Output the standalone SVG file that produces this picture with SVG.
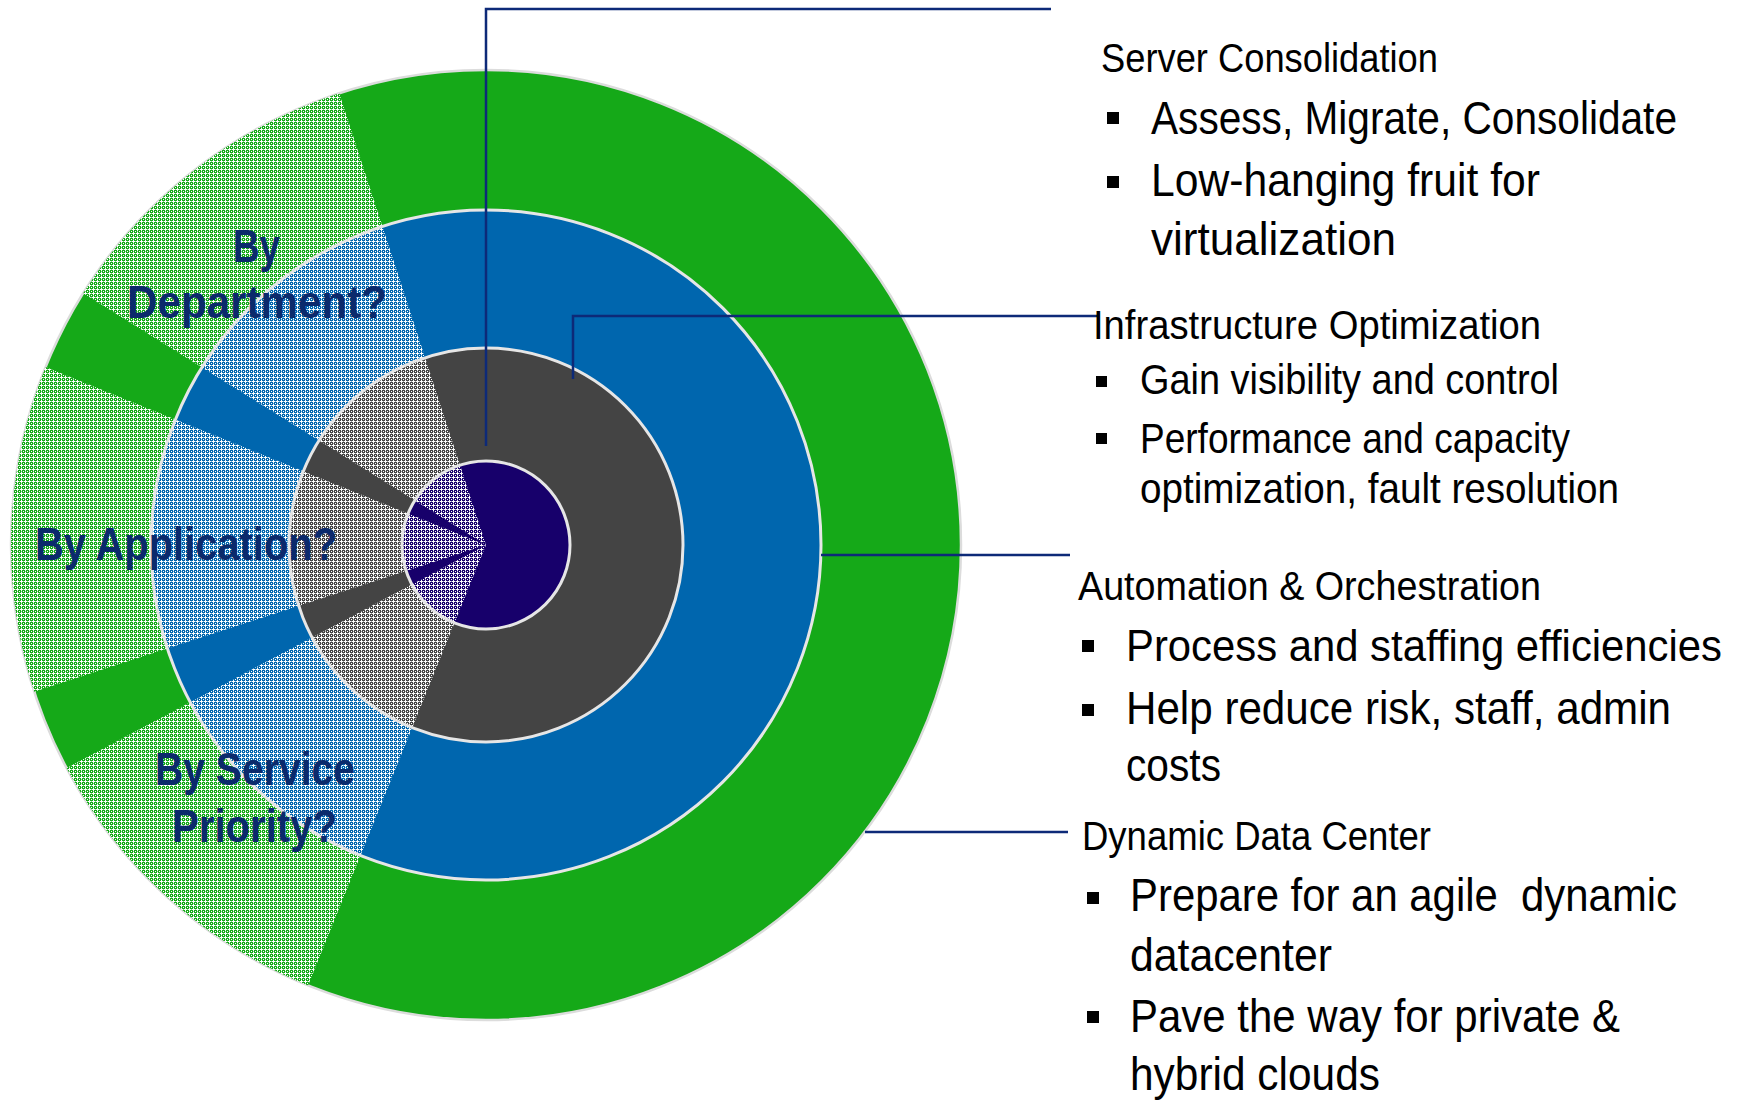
<svg xmlns="http://www.w3.org/2000/svg" width="1744" height="1100" viewBox="0 0 1744 1100">
<defs>
<style>
.hd{font-family:"Liberation Sans Narrow","Liberation Sans",Arial,sans-serif;font-size:40px;fill:#000}
.bl{font-family:"Liberation Sans Narrow","Liberation Sans",Arial,sans-serif;font-size:46px;fill:#000}
.bs{font-family:"Liberation Sans Narrow","Liberation Sans",Arial,sans-serif;font-size:42px;fill:#000}
.lab{font-family:"Liberation Sans Narrow","Liberation Sans",Arial,sans-serif;font-size:46px;font-weight:bold;fill:#0b2a6c}
.ring{fill:none;stroke:#e6e6e6;stroke-width:3}
.con{fill:none;stroke:#0d2a78;stroke-width:2.5}
</style>
<pattern id="pG" width="4" height="4" patternUnits="userSpaceOnUse">
<rect width="4" height="4" fill="#15a918"/><rect x="1" y="0" width="1" height="3" fill="#fff"/><rect x="0" y="1" width="3" height="1" fill="#fff"/><rect x="3" y="3" width="1" height="1" fill="#fff"/><rect x="3" y="1" width="1" height="1" fill="#fff" opacity="0.5"/><rect x="1" y="3" width="1" height="1" fill="#fff" opacity="0.5"/>
</pattern>
<pattern id="pB" width="4" height="4" patternUnits="userSpaceOnUse">
<rect width="4" height="4" fill="#0066ae"/><rect x="1" y="0" width="1" height="3" fill="#fff"/><rect x="0" y="1" width="3" height="1" fill="#fff"/><rect x="3" y="3" width="1" height="1" fill="#fff"/><rect x="3" y="1" width="1" height="1" fill="#fff" opacity="0.5"/><rect x="1" y="3" width="1" height="1" fill="#fff" opacity="0.5"/>
</pattern>
<pattern id="pK" width="4" height="4" patternUnits="userSpaceOnUse">
<rect width="4" height="4" fill="#444"/><rect x="1" y="0" width="1" height="3" fill="#fff"/><rect x="0" y="1" width="3" height="1" fill="#fff"/><rect x="3" y="3" width="1" height="1" fill="#fff"/><rect x="3" y="1" width="1" height="1" fill="#fff" opacity="0.5"/><rect x="1" y="3" width="1" height="1" fill="#fff" opacity="0.5"/>
</pattern>
<pattern id="pN" width="4" height="4" patternUnits="userSpaceOnUse">
<rect width="4" height="4" fill="#17006b"/><rect x="1" y="0" width="1" height="3" fill="#fff"/><rect x="0" y="1" width="3" height="1" fill="#fff"/><rect x="3" y="3" width="1" height="1" fill="#fff"/><rect x="3" y="1" width="1" height="1" fill="#fff" opacity="0.5"/><rect x="1" y="3" width="1" height="1" fill="#fff" opacity="0.5"/>
</pattern>
</defs>
<rect width="1744" height="1100" fill="#fff"/>

<g id="ring-dynamic-data-center">
<circle cx="486" cy="545" r="475" fill="#15a918" stroke="#dcdcdc" stroke-width="2.5"/>
<path fill="url(#pG)" d="M486,545 L308.06,985.41 A475,475 0 0 1 66.60,768.00 Z"/>
<path fill="url(#pG)" d="M486,545 L34.25,691.78 A475,475 0 0 1 45.59,367.06 Z"/>
<path fill="url(#pG)" d="M486,545 L83.18,293.29 A475,475 0 0 1 339.22,93.25 Z"/>
</g>
<g id="ring-automation">
<circle cx="486" cy="545" r="335" fill="#0066ae"/>
<path fill="url(#pB)" d="M486,545 L360.51,855.61 A335,335 0 0 1 190.21,702.27 Z"/>
<path fill="url(#pB)" d="M486,545 L167.39,648.52 A335,335 0 0 1 175.39,419.51 Z"/>
<path fill="url(#pB)" d="M486,545 L201.90,367.48 A335,335 0 0 1 382.48,226.39 Z"/>
</g>
<g id="ring-infrastructure">
<circle cx="486" cy="545" r="197" fill="#444444"/>
<path fill="url(#pK)" d="M486,545 L412.20,727.65 A197,197 0 0 1 312.06,637.49 Z"/>
<path fill="url(#pK)" d="M486,545 L298.64,605.88 A197,197 0 0 1 303.35,471.20 Z"/>
<path fill="url(#pK)" d="M486,545 L318.93,440.61 A197,197 0 0 1 425.12,357.64 Z"/>
</g>
<g id="ring-server-consolidation">
<circle cx="486" cy="545" r="84" fill="#17006b"/>
<path fill="url(#pN)" d="M486,545 L454.53,622.88 A84,84 0 0 1 411.83,584.44 Z"/>
<path fill="url(#pN)" d="M486,545 L406.11,570.96 A84,84 0 0 1 408.12,513.53 Z"/>
<path fill="url(#pN)" d="M486,545 L414.76,500.49 A84,84 0 0 1 460.04,465.11 Z"/>
</g>
<g id="ring-borders">
<circle class="ring" cx="486" cy="545" r="335"/>
<circle class="ring" cx="486" cy="545" r="197"/>
<circle class="ring" cx="486" cy="545" r="84"/>
</g>

<g id="segment-labels">
<text class="lab" x="233" y="262" textLength="47" lengthAdjust="spacingAndGlyphs">By</text>
<text class="lab" x="127" y="318" textLength="260" lengthAdjust="spacingAndGlyphs">Department?</text>
<text class="lab" x="35" y="560" textLength="302" lengthAdjust="spacingAndGlyphs">By Application?</text>
<text class="lab" x="155" y="785" textLength="200" lengthAdjust="spacingAndGlyphs">By Service</text>
<text class="lab" x="172" y="842" textLength="165" lengthAdjust="spacingAndGlyphs">Priority?</text>
</g>

<g id="connectors">
<polyline class="con" stroke="#1b0a76" points="486,446 486,9 1051,9"/>
<polyline class="con" points="573,379 573,316 1099,316"/>
<line class="con" x1="821" y1="555" x2="1070" y2="555"/>
<line class="con" x1="865" y1="832" x2="1068" y2="832"/>
</g>

<g id="text-server-consolidation">
<text class="hd" x="1101" y="72" textLength="337" lengthAdjust="spacingAndGlyphs">Server Consolidation</text>
<rect x="1107" y="112" width="12" height="12"/>
<text class="bl" x="1151" y="134" textLength="526" lengthAdjust="spacingAndGlyphs">Assess, Migrate, Consolidate</text>
<rect x="1107" y="176" width="12" height="12"/>
<text class="bl" x="1151" y="196" textLength="389" lengthAdjust="spacingAndGlyphs">Low-hanging fruit for</text>
<text class="bl" x="1151" y="255" textLength="245" lengthAdjust="spacingAndGlyphs">virtualization</text>
</g>

<g id="text-infrastructure-optimization">
<text class="hd" x="1093" y="339" textLength="448" lengthAdjust="spacingAndGlyphs">Infrastructure Optimization</text>
<rect x="1096" y="376" width="11" height="11"/>
<text class="bs" x="1140" y="394" textLength="419" lengthAdjust="spacingAndGlyphs">Gain visibility and control</text>
<rect x="1096" y="433" width="11" height="11"/>
<text class="bs" x="1140" y="453" textLength="430" lengthAdjust="spacingAndGlyphs">Performance and capacity</text>
<text class="bs" x="1140" y="503" textLength="479" lengthAdjust="spacingAndGlyphs">optimization, fault resolution</text>
</g>

<g id="text-automation-orchestration">
<text class="hd" x="1078" y="600" textLength="463" lengthAdjust="spacingAndGlyphs">Automation &amp; Orchestration</text>
<rect x="1082" y="640" width="12" height="12"/>
<text class="bl" x="1126" y="661" textLength="596" lengthAdjust="spacingAndGlyphs" style="font-size:44px">Process and staffing efficiencies</text>
<rect x="1082" y="704" width="12" height="12"/>
<text class="bl" x="1126" y="724" textLength="545" lengthAdjust="spacingAndGlyphs">Help reduce risk, staff, admin</text>
<text class="bl" x="1126" y="781" textLength="95" lengthAdjust="spacingAndGlyphs">costs</text>
</g>

<g id="text-dynamic-data-center">
<text class="hd" x="1082" y="850" textLength="349" lengthAdjust="spacingAndGlyphs">Dynamic Data Center</text>
<rect x="1087" y="892" width="12" height="12"/>
<text class="bl" x="1130" y="911" textLength="547" lengthAdjust="spacingAndGlyphs" style="white-space:pre">Prepare for an agile  dynamic</text>
<text class="bl" x="1130" y="971" textLength="202" lengthAdjust="spacingAndGlyphs">datacenter</text>
<rect x="1087" y="1011" width="12" height="12"/>
<text class="bl" x="1130" y="1032" textLength="490" lengthAdjust="spacingAndGlyphs">Pave the way for private &amp;</text>
<text class="bl" x="1130" y="1090" textLength="250" lengthAdjust="spacingAndGlyphs">hybrid clouds</text>
</g>
</svg>
